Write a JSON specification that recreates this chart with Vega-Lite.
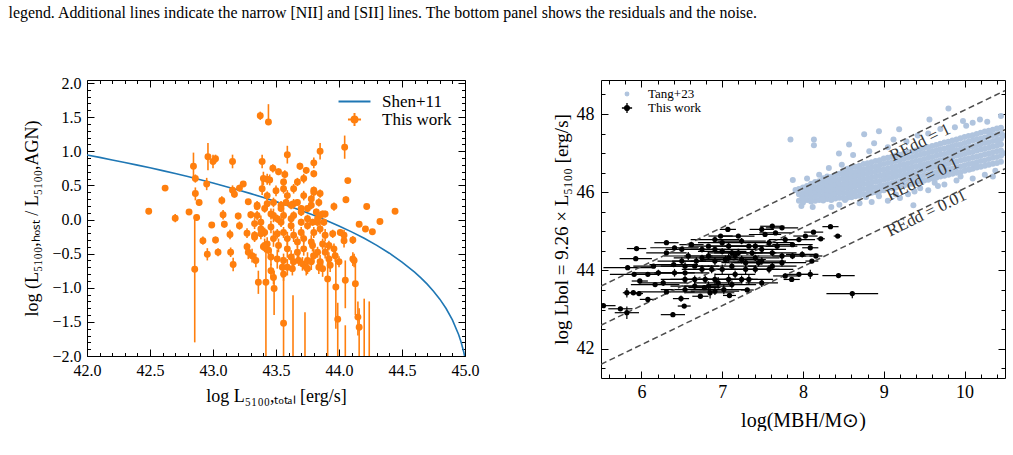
{
"$schema": "https://vega.github.io/schema/vega-lite/v6.json",
"padding": {"left": 8, "top": 4, "right": 0, "bottom": 0},
"title": {"text": "legend. Additional lines indicate the narrow [NII] and [SII] lines. The bottom panel shows the residuals and the noise.", "anchor": "start", "font": "Liberation Serif", "fontSize": 15.9, "fontWeight": "normal", "color": "black", "offset": 54, "dx": -15},
"config": {
 "view": {"stroke": "black", "strokeWidth": 1},
 "axis": {"grid": false, "domain": false, "tickColor": "black", "tickWidth": 1, "labelColor": "black", "labelFont": "Liberation Serif", "titleFont": "Liberation Serif", "titleFontWeight": "normal", "titleColor": "black", "labelOverlap": false, "labelFlush": false, "labelBound": false},
 "legend": {"labelFont": "Liberation Serif", "labelColor": "black"}
},
"spacing": 71,
"resolve": {"scale": {"color": "independent"}, "legend": {"color": "independent"}},
"datasets": {
 "curve": [{"x":42.0,"y":0.945},{"x":42.1,"y":0.910},{"x":42.2,"y":0.873},{"x":42.3,"y":0.836},{"x":42.4,"y":0.797},{"x":42.5,"y":0.757},{"x":42.6,"y":0.716},{"x":42.7,"y":0.673},{"x":42.8,"y":0.629},{"x":42.9,"y":0.583},{"x":43.0,"y":0.535},{"x":43.1,"y":0.485},{"x":43.2,"y":0.433},{"x":43.3,"y":0.379},{"x":43.4,"y":0.322},{"x":43.5,"y":0.262},{"x":43.6,"y":0.199},{"x":43.7,"y":0.132},{"x":43.8,"y":0.062},{"x":43.9,"y":-0.014},{"x":44.0,"y":-0.094},{"x":44.1,"y":-0.181},{"x":44.2,"y":-0.275},{"x":44.3,"y":-0.379},{"x":44.4,"y":-0.494},{"x":44.5,"y":-0.623},{"x":44.6,"y":-0.771},{"x":44.65,"y":-0.855},{"x":44.7,"y":-0.947},{"x":44.75,"y":-1.050},{"x":44.8,"y":-1.167},{"x":44.85,"y":-1.304},{"x":44.9,"y":-1.470},{"x":44.95,"y":-1.689},{"x":44.97,"y":-1.802},{"x":44.99,"y":-1.942},{"x":45.0,"y":-2.027}],
 "orange": [
{"x":42.49,"y":0.12,"lo":0.08,"hi":0.16},{"x":42.62,"y":0.46,"lo":0.43,"hi":0.49},{"x":42.70,"y":0.02,"lo":-0.04,"hi":0.08},{"x":42.81,"y":0.11,"lo":0.07,"hi":0.15},{"x":42.845,"y":0.78,"lo":0.62,"hi":0.98},{"x":42.86,"y":0.60,"lo":0.54,"hi":0.66},{"x":42.86,"y":0.38,"lo":0.28,"hi":0.47},{"x":42.87,"y":0.03,"lo":-0.02,"hi":0.08},{"x":42.89,"y":0.25,"lo":0.21,"hi":0.29},{"x":42.855,"y":-0.73,"lo":-1.80,"hi":0.0},
{"x":42.92,"y":-0.31,"lo":-0.37,"hi":-0.25},{"x":42.95,"y":0.52,"lo":0.43,"hi":0.61},{"x":42.96,"y":0.92,"lo":0.72,"hi":1.12},{"x":42.955,"y":-0.51,"lo":-0.60,"hi":-0.42},{"x":43.00,"y":0.85,"lo":0.75,"hi":0.95},{"x":43.02,"y":0.89,"lo":0.83,"hi":0.95},{"x":42.99,"y":-0.08,"lo":-0.12,"hi":-0.04},{"x":43.02,"y":-0.30,"lo":-0.35,"hi":-0.25},{"x":43.04,"y":-0.48,"lo":-0.54,"hi":-0.42},{"x":43.07,"y":0.28,"lo":0.22,"hi":0.34},
{"x":43.08,"y":0.07,"lo":0.0,"hi":0.14},{"x":43.09,"y":-0.07,"lo":-0.12,"hi":-0.02},{"x":43.135,"y":-0.22,"lo":-0.29,"hi":-0.15},{"x":43.14,"y":-0.48,"lo":-0.55,"hi":-0.41},{"x":43.155,"y":0.85,"lo":0.75,"hi":0.95},{"x":43.155,"y":0.43,"lo":0.36,"hi":0.50},{"x":43.17,"y":0.37,"lo":0.32,"hi":0.42},{"x":43.16,"y":-0.66,"lo":-0.76,"hi":-0.56},{"x":43.20,"y":0.05,"lo":0.0,"hi":0.10},{"x":43.21,"y":-0.09,"lo":-0.15,"hi":-0.03},
{"x":43.21,"y":0.46,"lo":0.41,"hi":0.51},{"x":43.24,"y":0.52,"lo":0.48,"hi":0.56},{"x":43.28,"y":0.26,"lo":0.22,"hi":0.30},{"x":43.27,"y":-0.20,"lo":-0.27,"hi":-0.13},{"x":43.30,"y":0.07,"lo":0.02,"hi":0.12},{"x":43.33,"y":-0.23,"lo":-0.29,"hi":-0.17},{"x":43.35,"y":0.19,"lo":0.14,"hi":0.24},{"x":43.27,"y":-0.40,"lo":-0.46,"hi":-0.34},{"x":43.28,"y":-0.48,"lo":-0.58,"hi":-0.38},{"x":43.34,"y":-0.60,"lo":-0.70,"hi":-0.50},
{"x":43.36,"y":-0.92,"lo":-1.09,"hi":-0.75},{"x":43.42,"y":-0.92,"lo":-2.1,"hi":-0.45},{"x":43.375,"y":1.52,"lo":1.46,"hi":1.58},{"x":43.44,"y":1.43,"lo":1.38,"hi":1.69},{"x":43.39,"y":0.85,"lo":0.75,"hi":0.95},{"x":43.39,"y":0.45,"lo":0.36,"hi":0.58},{"x":43.40,"y":0.60,"lo":0.50,"hi":0.70},{"x":43.43,"y":0.59,"lo":0.51,"hi":0.67},{"x":43.45,"y":0.58,"lo":0.50,"hi":0.66},{"x":43.475,"y":0.75,"lo":0.69,"hi":0.81},
{"x":43.52,"y":0.70,"lo":0.65,"hi":0.75},{"x":43.57,"y":0.66,"lo":0.60,"hi":0.72},{"x":43.56,"y":0.55,"lo":0.50,"hi":0.60},{"x":43.59,"y":0.95,"lo":0.82,"hi":1.08},{"x":43.58,"y":0.25,"lo":0.20,"hi":0.30},{"x":43.69,"y":0.78,"lo":0.73,"hi":0.83},{"x":43.74,"y":0.72,"lo":0.67,"hi":0.77},{"x":43.80,"y":0.83,"lo":0.75,"hi":0.91},{"x":43.80,"y":0.67,"lo":0.62,"hi":0.72},{"x":43.85,"y":1.00,"lo":0.88,"hi":1.12},
{"x":43.85,"y":0.38,"lo":0.32,"hi":0.44},{"x":43.80,"y":0.43,"lo":0.38,"hi":0.48},{"x":44.045,"y":1.06,"lo":0.89,"hi":1.23},{"x":44.07,"y":0.57,"lo":0.53,"hi":0.61},{"x":44.055,"y":0.29,"lo":0.24,"hi":0.34},{"x":43.96,"y":0.19,"lo":0.13,"hi":0.25},{"x":44.22,"y":0.19,"lo":0.16,"hi":0.22},{"x":44.16,"y":-0.07,"lo":-0.10,"hi":-0.04},{"x":44.21,"y":-0.14,"lo":-0.17,"hi":-0.11},{"x":44.265,"y":-0.18,"lo":-0.21,"hi":-0.15},
{"x":44.325,"y":-0.03,"lo":-0.06,"hi":0.0},{"x":44.445,"y":0.12,"lo":0.09,"hi":0.15},{"x":44.01,"y":-0.19,"lo":-0.24,"hi":-0.14},{"x":44.04,"y":-0.23,"lo":-0.31,"hi":-0.15},{"x":44.04,"y":-0.31,"lo":-0.41,"hi":-0.21},{"x":44.11,"y":-0.30,"lo":-0.36,"hi":-0.24},{"x":44.11,"y":-0.58,"lo":-0.68,"hi":-0.48},{"x":43.95,"y":-0.21,"lo":-0.27,"hi":-0.15},{"x":44.00,"y":-0.62,"lo":-0.70,"hi":-0.54},{"x":43.40,"y":-0.40,"lo":-0.46,"hi":-0.34},
{"x":43.46,"y":-0.75,"lo":-0.85,"hi":-0.65},{"x":43.48,"y":-0.85,"lo":-0.95,"hi":-0.75},{"x":43.485,"y":-1.01,"lo":-1.40,"hi":-0.75},{"x":43.56,"y":-0.80,"lo":-0.90,"hi":-0.70},{"x":43.56,"y":-1.52,"lo":-2.1,"hi":-0.75},{"x":43.635,"y":-2.3,"lo":-2.5,"hi":-1.11},{"x":43.73,"y":-2.3,"lo":-2.5,"hi":-1.36},{"x":43.91,"y":-0.87,"lo":-2.1,"hi":-0.40},{"x":43.975,"y":-0.99,"lo":-1.60,"hi":-0.60},{"x":43.99,"y":-1.46,"lo":-2.1,"hi":-1.22},
{"x":44.05,"y":-0.89,"lo":-1.30,"hi":-0.60},{"x":44.12,"y":-0.60,"lo":-0.70,"hi":-0.50},{"x":44.13,"y":-0.94,"lo":-1.40,"hi":-0.60},{"x":44.15,"y":-1.43,"lo":-1.70,"hi":-1.20},{"x":44.16,"y":-1.58,"lo":-2.1,"hi":-1.30},{"x":44.20,"y":-2.3,"lo":-2.5,"hi":-1.16},{"x":44.24,"y":-2.3,"lo":-2.5,"hi":-1.20},{"x":44.05,"y":-2.3,"lo":-2.5,"hi":-1.55},{"x":43.75,"y":-0.72,"lo":-0.80,"hi":-0.64},{"x":43.68,"y":-0.60,"lo":-0.68,"hi":-0.52},
{"x":43.35,"y":0.21,"lo":0.15,"hi":0.27},{"x":43.43,"y":0.23,"lo":0.15,"hi":0.31},{"x":43.54,"y":0.21,"lo":0.15,"hi":0.27},{"x":43.64,"y":0.23,"lo":0.16,"hi":0.30},{"x":43.70,"y":0.16,"lo":0.11,"hi":0.21},{"x":43.78,"y":0.21,"lo":0.15,"hi":0.27},{"x":43.33,"y":-0.06,"lo":-0.14,"hi":0.02},{"x":43.38,"y":-0.04,"lo":-0.14,"hi":0.06},{"x":43.41,"y":-0.19,"lo":-0.26,"hi":-0.12},{"x":43.46,"y":-0.11,"lo":-0.20,"hi":-0.02},
{"x":43.48,"y":0.06,"lo":-0.04,"hi":0.16},{"x":43.54,"y":-0.04,"lo":-0.11,"hi":0.03},{"x":43.62,"y":-0.09,"lo":-0.17,"hi":-0.01},{"x":43.64,"y":-0.23,"lo":-0.33,"hi":-0.13},{"x":43.70,"y":-0.19,"lo":-0.27,"hi":-0.11},{"x":43.72,"y":-0.28,"lo":-0.35,"hi":-0.21},{"x":43.75,"y":-0.09,"lo":-0.15,"hi":-0.03},{"x":43.78,"y":-0.33,"lo":-0.43,"hi":-0.23},{"x":43.80,"y":-0.19,"lo":-0.27,"hi":-0.11},{"x":43.83,"y":-0.04,"lo":-0.10,"hi":0.02},
{"x":43.85,"y":-0.14,"lo":-0.21,"hi":-0.07},{"x":43.88,"y":-0.04,"lo":-0.09,"hi":0.01},{"x":43.89,"y":-0.23,"lo":-0.32,"hi":-0.14},{"x":43.48,"y":-0.28,"lo":-0.40,"hi":-0.16},{"x":43.52,"y":-0.38,"lo":-0.48,"hi":-0.28},{"x":43.59,"y":-0.43,"lo":-0.56,"hi":-0.30},{"x":43.62,"y":-0.55,"lo":-0.65,"hi":-0.45},{"x":43.64,"y":-0.62,"lo":-0.74,"hi":-0.50},{"x":43.67,"y":-0.48,"lo":-0.57,"hi":-0.39},{"x":43.72,"y":-0.43,"lo":-0.53,"hi":-0.33},
{"x":43.75,"y":-0.60,"lo":-0.72,"hi":-0.48},{"x":43.80,"y":-0.53,"lo":-0.63,"hi":-0.43},{"x":43.83,"y":-0.48,"lo":-0.56,"hi":-0.40},{"x":43.85,"y":-0.62,"lo":-0.72,"hi":-0.52},{"x":43.89,"y":-0.48,"lo":-0.57,"hi":-0.39},{"x":43.92,"y":-0.58,"lo":-0.68,"hi":-0.48},{"x":43.96,"y":-0.43,"lo":-0.51,"hi":-0.35},{"x":43.56,"y":-0.19,"lo":-0.27,"hi":-0.11},{"x":43.59,"y":-0.28,"lo":-0.38,"hi":-0.18},{"x":43.51,"y":-0.21,"lo":-0.28,"hi":-0.14},
{"x":43.43,"y":-0.36,"lo":-0.46,"hi":-0.26},{"x":43.44,"y":-0.45,"lo":-0.57,"hi":-0.33},{"x":43.38,"y":-0.21,"lo":-0.29,"hi":-0.13},{"x":43.41,"y":-0.38,"lo":-0.48,"hi":-0.28},{"x":43.33,"y":-0.26,"lo":-0.33,"hi":-0.19},{"x":43.31,"y":-0.53,"lo":-0.63,"hi":-0.43},{"x":43.46,"y":-0.55,"lo":-0.67,"hi":-0.43},{"x":43.51,"y":-0.58,"lo":-0.72,"hi":-0.44},{"x":43.55,"y":-0.70,"lo":-0.85,"hi":-0.55},{"x":43.67,"y":-0.33,"lo":-0.41,"hi":-0.25},
{"x":43.74,"y":-0.70,"lo":-0.82,"hi":-0.58},{"x":43.79,"y":-0.38,"lo":-0.47,"hi":-0.29},{"x":43.87,"y":-0.36,"lo":-0.44,"hi":-0.28},{"x":43.92,"y":-0.38,"lo":-0.45,"hi":-0.31},{"x":43.43,"y":0.35,"lo":0.29,"hi":0.41},{"x":43.48,"y":0.25,"lo":0.18,"hi":0.32},{"x":43.54,"y":0.16,"lo":0.11,"hi":0.21},{"x":43.59,"y":0.35,"lo":0.27,"hi":0.43},{"x":43.62,"y":0.21,"lo":0.15,"hi":0.27},{"x":43.64,"y":0.45,"lo":0.38,"hi":0.52},
{"x":43.67,"y":0.25,"lo":0.20,"hi":0.30},{"x":43.70,"y":0.11,"lo":0.05,"hi":0.17},{"x":43.72,"y":0.35,"lo":0.28,"hi":0.42},{"x":43.75,"y":0.16,"lo":0.11,"hi":0.21},{"x":43.78,"y":0.30,"lo":0.24,"hi":0.36},{"x":43.80,"y":0.40,"lo":0.32,"hi":0.48},{"x":43.82,"y":0.11,"lo":0.06,"hi":0.16},{"x":43.84,"y":0.25,"lo":0.19,"hi":0.31},{"x":43.87,"y":0.08,"lo":0.03,"hi":0.13},{"x":43.64,"y":0.06,"lo":0.0,"hi":0.12},
{"x":43.56,"y":0.06,"lo":-0.01,"hi":0.13},{"x":43.51,"y":0.01,"lo":-0.05,"hi":0.07},{"x":43.46,"y":0.08,"lo":0.0,"hi":0.16},{"x":43.41,"y":0.16,"lo":0.10,"hi":0.22},{"x":43.35,"y":0.06,"lo":-0.01,"hi":0.13},{"x":43.38,"y":-0.14,"lo":-0.22,"hi":-0.06},{"x":43.62,"y":0.01,"lo":-0.05,"hi":0.07},{"x":43.70,"y":-0.04,"lo":-0.09,"hi":0.01},{"x":43.75,"y":0.01,"lo":-0.05,"hi":0.07},{"x":43.79,"y":-0.04,"lo":-0.09,"hi":0.01},
{"x":43.83,"y":0.01,"lo":-0.05,"hi":0.07},{"x":43.85,"y":0.06,"lo":0.01,"hi":0.11},{"x":43.89,"y":0.08,"lo":0.03,"hi":0.13},{"x":43.50,"y":0.42,"lo":0.34,"hi":0.50},{"x":43.56,"y":0.45,"lo":0.38,"hi":0.52},{"x":43.67,"y":0.55,"lo":0.49,"hi":0.61},{"x":43.72,"y":0.60,"lo":0.53,"hi":0.67},{"x":43.56,"y":-0.60,"lo":-0.70,"hi":-0.50},{"x":43.59,"y":-0.70,"lo":-0.82,"hi":-0.58},{"x":43.63,"y":-0.72,"lo":-0.82,"hi":-0.62},
{"x":43.71,"y":-0.65,"lo":-0.75,"hi":-0.55},{"x":43.78,"y":-0.62,"lo":-0.74,"hi":-0.50},{"x":43.84,"y":-0.70,"lo":-0.80,"hi":-0.60},{"x":43.87,"y":-0.72,"lo":-0.84,"hi":-0.60},{"x":43.93,"y":-0.67,"lo":-0.77,"hi":-0.57},{"x":43.97,"y":-0.53,"lo":-0.62,"hi":-0.44}
 ],
 "redd": [{"R":"1","x":5.5,"y":43.6},{"R":"1","x":10.5,"y":48.6},{"R":"0.1","x":5.5,"y":42.6},{"R":"0.1","x":10.5,"y":47.6},{"R":"0.01","x":5.5,"y":41.6},{"R":"0.01","x":10.5,"y":46.6}],
 "rlab": [{"x":9.45,"y":47.27,"label":"REdd = 1"},{"x":9.48,"y":46.33,"label":"REdd = 0.1"},{"x":9.53,"y":45.46,"label":"REdd = 0.01"}],
 "black": [
{"x":5.53,"y":43.10,"xl":5.38,"xh":5.68,"yl":43.05,"yh":43.15},{"x":5.74,"y":43.02,"xl":5.59,"xh":5.89,"yl":42.97,"yh":43.07},{"x":5.82,"y":42.92,"xl":5.67,"xh":5.97,"yl":42.76,"yh":43.08},{"x":5.82,"y":43.43,"xl":5.77,"xh":5.87,"yl":43.31,"yh":43.55},{"x":5.90,"y":43.43,"xl":5.85,"xh":5.95,"yl":43.38,"yh":43.48},{"x":5.97,"y":43.41,"xl":5.92,"xh":6.02,"yl":43.36,"yh":43.46},{"x":5.83,"y":44.07,"xl":5.53,"xh":6.13,"yl":44.02,"yh":44.12},{"x":5.94,"y":44.56,"xl":5.82,"xh":6.06,"yl":44.51,"yh":44.61},{"x":5.93,"y":44.30,"xl":5.73,"xh":6.13,"yl":44.25,"yh":44.35},{"x":5.91,"y":43.90,"xl":5.61,"xh":6.21,"yl":43.85,"yh":43.95},
{"x":5.98,"y":43.73,"xl":5.88,"xh":6.08,"yl":43.68,"yh":43.78},{"x":6.08,"y":43.90,"xl":5.93,"xh":6.23,"yl":43.85,"yh":43.95},{"x":6.15,"y":44.11,"xl":5.90,"xh":6.40,"yl":44.06,"yh":44.16},{"x":6.17,"y":43.64,"xl":5.87,"xh":6.47,"yl":43.59,"yh":43.69},{"x":6.08,"y":43.26,"xl":5.98,"xh":6.18,"yl":43.21,"yh":43.31},{"x":6.31,"y":44.71,"xl":6.16,"xh":6.46,"yl":44.66,"yh":44.76},{"x":6.31,"y":44.45,"xl":6.06,"xh":6.56,"yl":44.40,"yh":44.50},{"x":6.31,"y":43.45,"xl":5.96,"xh":6.66,"yl":43.40,"yh":43.50},{"x":6.39,"y":42.87,"xl":6.24,"xh":6.54,"yl":42.81,"yh":42.93},{"x":6.49,"y":43.28,"xl":6.39,"xh":6.59,"yl":43.20,"yh":43.36},
{"x":6.53,"y":43.09,"xl":6.45,"xh":6.61,"yl":43.04,"yh":43.14},{"x":6.40,"y":44.15,"xl":6.10,"xh":6.70,"yl":44.10,"yh":44.20},{"x":6.41,"y":44.58,"xl":6.11,"xh":6.71,"yl":44.53,"yh":44.63},{"x":6.50,"y":44.54,"xl":6.30,"xh":6.70,"yl":44.49,"yh":44.59},{"x":6.54,"y":43.94,"xl":6.24,"xh":6.84,"yl":43.88,"yh":44.00},{"x":6.62,"y":44.66,"xl":6.47,"xh":6.77,"yl":44.61,"yh":44.71},{"x":6.66,"y":44.11,"xl":6.36,"xh":6.96,"yl":44.06,"yh":44.16},{"x":6.75,"y":44.32,"xl":6.40,"xh":7.10,"yl":44.24,"yh":44.40},{"x":6.73,"y":43.34,"xl":6.63,"xh":6.83,"yl":43.29,"yh":43.39},{"x":6.78,"y":43.56,"xl":6.58,"xh":6.98,"yl":43.50,"yh":43.62},
{"x":6.85,"y":43.43,"xl":6.55,"xh":7.15,"yl":43.28,"yh":43.58},{"x":6.83,"y":44.62,"xl":6.58,"xh":7.08,"yl":44.57,"yh":44.67},{"x":6.91,"y":44.54,"xl":6.61,"xh":7.21,"yl":44.49,"yh":44.59},{"x":7.00,"y":44.49,"xl":6.70,"xh":7.30,"yl":44.41,"yh":44.57},{"x":7.07,"y":45.05,"xl":6.97,"xh":7.17,"yl":45.00,"yh":45.10},{"x":6.98,"y":44.88,"xl":6.83,"xh":7.13,"yl":44.83,"yh":44.93},{"x":7.08,"y":44.32,"xl":6.78,"xh":7.38,"yl":44.22,"yh":44.42},{"x":7.09,"y":43.36,"xl":7.01,"xh":7.17,"yl":43.31,"yh":43.41},{"x":7.20,"y":44.88,"xl":7.00,"xh":7.40,"yl":44.83,"yh":44.93},{"x":7.31,"y":43.50,"xl":7.23,"xh":7.39,"yl":43.45,"yh":43.55},
{"x":7.33,"y":44.62,"xl":7.03,"xh":7.63,"yl":44.57,"yh":44.67},{"x":7.41,"y":44.32,"xl":7.11,"xh":7.71,"yl":44.24,"yh":44.40},{"x":7.49,"y":45.05,"xl":7.34,"xh":7.64,"yl":45.00,"yh":45.10},{"x":7.53,"y":44.92,"xl":7.33,"xh":7.73,"yl":44.87,"yh":44.97},{"x":7.62,"y":45.13,"xl":7.47,"xh":7.77,"yl":45.08,"yh":45.18},{"x":7.66,"y":44.96,"xl":7.46,"xh":7.86,"yl":44.91,"yh":45.01},{"x":7.74,"y":45.09,"xl":7.54,"xh":7.94,"yl":45.04,"yh":45.14},{"x":7.58,"y":44.71,"xl":7.28,"xh":7.88,"yl":44.63,"yh":44.79},{"x":7.68,"y":44.62,"xl":7.43,"xh":7.93,"yl":44.54,"yh":44.70},{"x":7.78,"y":44.79,"xl":7.58,"xh":7.98,"yl":44.74,"yh":44.84},
{"x":7.87,"y":44.66,"xl":7.62,"xh":8.12,"yl":44.61,"yh":44.71},{"x":7.95,"y":44.79,"xl":7.75,"xh":8.15,"yl":44.73,"yh":44.85},{"x":8.03,"y":44.88,"xl":7.88,"xh":8.18,"yl":44.83,"yh":44.93},{"x":8.13,"y":44.98,"xl":8.01,"xh":8.25,"yl":44.93,"yh":45.03},{"x":8.22,"y":44.81,"xl":8.17,"xh":8.27,"yl":44.76,"yh":44.86},{"x":8.34,"y":45.12,"xl":8.24,"xh":8.44,"yl":45.07,"yh":45.17},{"x":8.43,"y":44.88,"xl":8.38,"xh":8.48,"yl":44.83,"yh":44.93},{"x":8.09,"y":44.58,"xl":7.99,"xh":8.19,"yl":44.53,"yh":44.63},{"x":8.16,"y":44.37,"xl":8.08,"xh":8.24,"yl":44.32,"yh":44.42},{"x":8.11,"y":44.24,"xl":8.03,"xh":8.19,"yl":44.19,"yh":44.29},
{"x":7.78,"y":43.86,"xl":7.63,"xh":7.93,"yl":43.80,"yh":43.92},{"x":7.86,"y":43.77,"xl":7.76,"xh":7.96,"yl":43.72,"yh":43.82},{"x":7.95,"y":43.90,"xl":7.80,"xh":8.10,"yl":43.85,"yh":43.95},{"x":8.09,"y":43.90,"xl":7.99,"xh":8.19,"yl":43.78,"yh":44.02},{"x":8.44,"y":43.87,"xl":8.24,"xh":8.64,"yl":43.82,"yh":43.92},{"x":8.61,"y":43.41,"xl":8.29,"xh":8.93,"yl":43.29,"yh":43.46},{"x":7.74,"y":44.20,"xl":7.44,"xh":8.04,"yl":44.10,"yh":44.30},{"x":7.58,"y":44.03,"xl":7.28,"xh":7.88,"yl":43.93,"yh":44.13},{"x":7.45,"y":44.20,"xl":7.15,"xh":7.75,"yl":44.10,"yh":44.30},{"x":7.29,"y":44.03,"xl":6.99,"xh":7.59,"yl":43.91,"yh":44.15},
{"x":7.16,"y":43.90,"xl":6.91,"xh":7.41,"yl":43.80,"yh":44.00},{"x":7.12,"y":43.64,"xl":6.82,"xh":7.42,"yl":43.54,"yh":43.74},{"x":6.91,"y":43.77,"xl":6.61,"xh":7.21,"yl":43.62,"yh":43.92},{"x":6.79,"y":43.77,"xl":6.49,"xh":7.09,"yl":43.67,"yh":43.87},{"x":6.66,"y":43.77,"xl":6.36,"xh":6.96,"yl":43.67,"yh":43.87},{"x":6.54,"y":43.77,"xl":6.24,"xh":6.84,"yl":43.67,"yh":43.87},{"x":6.87,"y":44.03,"xl":6.57,"xh":7.17,"yl":43.93,"yh":44.13},{"x":6.75,"y":44.03,"xl":6.50,"xh":7.00,"yl":43.93,"yh":44.13},{"x":7.00,"y":44.03,"xl":6.70,"xh":7.30,"yl":43.91,"yh":44.15},{"x":7.12,"y":44.11,"xl":6.82,"xh":7.42,"yl":44.01,"yh":44.21},
{"x":7.24,"y":44.28,"xl":6.94,"xh":7.54,"yl":44.18,"yh":44.38},{"x":7.37,"y":44.45,"xl":7.07,"xh":7.67,"yl":44.37,"yh":44.53},{"x":7.49,"y":44.54,"xl":7.19,"xh":7.79,"yl":44.46,"yh":44.62},{"x":7.62,"y":44.45,"xl":7.32,"xh":7.92,"yl":44.37,"yh":44.53},{"x":7.74,"y":44.37,"xl":7.44,"xh":8.04,"yl":44.29,"yh":44.45},{"x":7.87,"y":44.37,"xl":7.62,"xh":8.12,"yl":44.29,"yh":44.45},{"x":7.99,"y":44.41,"xl":7.79,"xh":8.19,"yl":44.33,"yh":44.49},{"x":7.08,"y":44.62,"xl":6.83,"xh":7.33,"yl":44.54,"yh":44.70},{"x":7.20,"y":44.45,"xl":6.90,"xh":7.50,"yl":44.37,"yh":44.53},{"x":6.91,"y":44.24,"xl":6.61,"xh":7.21,"yl":44.14,"yh":44.34},
{"x":7.04,"y":44.28,"xl":6.74,"xh":7.34,"yl":44.18,"yh":44.38},{"x":7.16,"y":44.37,"xl":6.86,"xh":7.46,"yl":44.27,"yh":44.47},{"x":7.29,"y":44.20,"xl":6.99,"xh":7.59,"yl":44.10,"yh":44.30},{"x":7.41,"y":44.03,"xl":7.11,"xh":7.71,"yl":43.93,"yh":44.13},{"x":7.49,"y":44.24,"xl":7.19,"xh":7.79,"yl":44.14,"yh":44.34},{"x":7.62,"y":44.11,"xl":7.32,"xh":7.92,"yl":44.01,"yh":44.21},{"x":6.83,"y":44.37,"xl":6.53,"xh":7.13,"yl":44.27,"yh":44.47},{"x":6.68,"y":44.24,"xl":6.38,"xh":6.98,"yl":44.14,"yh":44.34},{"x":6.58,"y":44.37,"xl":6.28,"xh":6.88,"yl":44.27,"yh":44.47},{"x":6.50,"y":44.24,"xl":6.20,"xh":6.80,"yl":44.14,"yh":44.34},
{"x":6.41,"y":43.94,"xl":6.16,"xh":6.66,"yl":43.84,"yh":44.04},{"x":6.83,"y":43.60,"xl":6.53,"xh":7.13,"yl":43.48,"yh":43.72},{"x":6.95,"y":43.68,"xl":6.65,"xh":7.25,"yl":43.53,"yh":43.83},{"x":6.66,"y":43.60,"xl":6.36,"xh":6.96,"yl":43.50,"yh":43.70},{"x":6.54,"y":43.51,"xl":6.24,"xh":6.84,"yl":43.41,"yh":43.61},{"x":6.21,"y":43.94,"xl":5.91,"xh":6.51,"yl":43.86,"yh":44.02},{"x":6.27,"y":43.68,"xl":5.97,"xh":6.57,"yl":43.60,"yh":43.76},{"x":7.02,"y":43.51,"xl":6.72,"xh":7.32,"yl":43.39,"yh":43.63},{"x":7.24,"y":43.77,"xl":7.04,"xh":7.44,"yl":43.67,"yh":43.87},{"x":7.00,"y":44.71,"xl":6.70,"xh":7.30,"yl":44.63,"yh":44.79},
{"x":7.24,"y":44.75,"xl":6.94,"xh":7.54,"yl":44.67,"yh":44.83},{"x":6.91,"y":44.79,"xl":6.61,"xh":7.21,"yl":44.71,"yh":44.87},{"x":7.12,"y":44.45,"xl":6.82,"xh":7.42,"yl":44.35,"yh":44.55},{"x":7.41,"y":44.62,"xl":7.11,"xh":7.71,"yl":44.54,"yh":44.70},{"x":6.75,"y":44.54,"xl":6.45,"xh":7.05,"yl":44.46,"yh":44.62},{"x":6.54,"y":44.11,"xl":6.24,"xh":6.84,"yl":44.01,"yh":44.21},{"x":7.08,"y":43.77,"xl":6.78,"xh":7.38,"yl":43.65,"yh":43.89},{"x":7.33,"y":43.77,"xl":7.03,"xh":7.63,"yl":43.65,"yh":43.89},{"x":7.49,"y":43.68,"xl":7.29,"xh":7.69,"yl":43.58,"yh":43.78},{"x":6.91,"y":43.47,"xl":6.61,"xh":7.21,"yl":43.37,"yh":43.57}
 ],
 "blue": [
{"x":7.95,"y":45.78},{"x":7.95,"y":45.95},{"x":7.95,"y":46.08},{"x":8.0,"y":45.74},{"x":8.0,"y":45.86},{"x":8.0,"y":45.98},{"x":8.0,"y":46.12},{"x":8.05,"y":45.80},{"x":8.05,"y":45.93},{"x":8.05,"y":46.05},{"x":8.05,"y":46.16},
{"x":8.1,"y":45.76},{"x":8.1,"y":45.88},{"x":8.1,"y":46.0},{"x":8.1,"y":46.11},{"x":8.1,"y":46.22},{"x":8.15,"y":45.78},{"x":8.15,"y":45.9},{"x":8.15,"y":46.02},{"x":8.15,"y":46.13},{"x":8.15,"y":46.26},
{"x":8.2,"y":45.8},{"x":8.2,"y":45.93},{"x":8.2,"y":46.05},{"x":8.2,"y":46.16},{"x":8.2,"y":46.28},{"x":8.25,"y":45.79},{"x":8.25,"y":45.9},{"x":8.25,"y":46.02},{"x":8.25,"y":46.13},{"x":8.25,"y":46.25},{"x":8.25,"y":46.36},
{"x":8.3,"y":45.83},{"x":8.3,"y":45.95},{"x":8.3,"y":46.06},{"x":8.3,"y":46.18},{"x":8.3,"y":46.3},{"x":8.3,"y":46.4},{"x":8.35,"y":45.8},{"x":8.35,"y":45.92},{"x":8.35,"y":46.04},{"x":8.35,"y":46.15},{"x":8.35,"y":46.27},{"x":8.35,"y":46.39},
{"x":8.4,"y":45.84},{"x":8.4,"y":45.96},{"x":8.4,"y":46.08},{"x":8.4,"y":46.19},{"x":8.4,"y":46.31},{"x":8.4,"y":46.44},{"x":8.45,"y":45.86},{"x":8.45,"y":45.99},{"x":8.45,"y":46.11},{"x":8.45,"y":46.22},{"x":8.45,"y":46.34},{"x":8.45,"y":46.47},
{"x":8.5,"y":45.85},{"x":8.5,"y":45.97},{"x":8.5,"y":46.09},{"x":8.5,"y":46.21},{"x":8.5,"y":46.33},{"x":8.5,"y":46.45},{"x":8.5,"y":46.55},
{"x":8.55,"y":45.86},{"x":8.55,"y":45.99},{"x":8.55,"y":46.11},{"x":8.55,"y":46.23},{"x":8.55,"y":46.35},{"x":8.55,"y":46.47},{"x":8.55,"y":46.6},
{"x":8.6,"y":45.87},{"x":8.6,"y":46.0},{"x":8.6,"y":46.13},{"x":8.6,"y":46.25},{"x":8.6,"y":46.37},{"x":8.6,"y":46.5},{"x":8.6,"y":46.63},
{"x":8.65,"y":45.9},{"x":8.65,"y":46.02},{"x":8.65,"y":46.15},{"x":8.65,"y":46.27},{"x":8.65,"y":46.4},{"x":8.65,"y":46.52},{"x":8.65,"y":46.65},
{"x":8.7,"y":45.91},{"x":8.7,"y":46.04},{"x":8.7,"y":46.17},{"x":8.7,"y":46.3},{"x":8.7,"y":46.43},{"x":8.7,"y":46.55},{"x":8.7,"y":46.68},
{"x":8.75,"y":45.95},{"x":8.75,"y":46.08},{"x":8.75,"y":46.21},{"x":8.75,"y":46.33},{"x":8.75,"y":46.46},{"x":8.75,"y":46.58},{"x":8.75,"y":46.72},
{"x":8.8,"y":45.96},{"x":8.8,"y":46.09},{"x":8.8,"y":46.22},{"x":8.8,"y":46.35},{"x":8.8,"y":46.48},{"x":8.8,"y":46.61},{"x":8.8,"y":46.74},
{"x":8.85,"y":45.99},{"x":8.85,"y":46.12},{"x":8.85,"y":46.25},{"x":8.85,"y":46.38},{"x":8.85,"y":46.51},{"x":8.85,"y":46.64},{"x":8.85,"y":46.77},
{"x":8.9,"y":46.0},{"x":8.9,"y":46.13},{"x":8.9,"y":46.27},{"x":8.9,"y":46.4},{"x":8.9,"y":46.53},{"x":8.9,"y":46.66},{"x":8.9,"y":46.8},
{"x":8.95,"y":46.03},{"x":8.95,"y":46.16},{"x":8.95,"y":46.29},{"x":8.95,"y":46.42},{"x":8.95,"y":46.56},{"x":8.95,"y":46.69},{"x":8.95,"y":46.82},
{"x":9.0,"y":46.05},{"x":9.0,"y":46.18},{"x":9.0,"y":46.32},{"x":9.0,"y":46.45},{"x":9.0,"y":46.58},{"x":9.0,"y":46.72},{"x":9.0,"y":46.86},
{"x":9.05,"y":46.08},{"x":9.05,"y":46.21},{"x":9.05,"y":46.35},{"x":9.05,"y":46.48},{"x":9.05,"y":46.61},{"x":9.05,"y":46.75},{"x":9.05,"y":46.88},
{"x":9.1,"y":46.1},{"x":9.1,"y":46.23},{"x":9.1,"y":46.37},{"x":9.1,"y":46.5},{"x":9.1,"y":46.63},{"x":9.1,"y":46.77},{"x":9.1,"y":46.91},
{"x":9.15,"y":46.12},{"x":9.15,"y":46.26},{"x":9.15,"y":46.4},{"x":9.15,"y":46.53},{"x":9.15,"y":46.66},{"x":9.15,"y":46.8},{"x":9.15,"y":46.94},
{"x":9.2,"y":46.15},{"x":9.2,"y":46.28},{"x":9.2,"y":46.42},{"x":9.2,"y":46.55},{"x":9.2,"y":46.69},{"x":9.2,"y":46.82},{"x":9.2,"y":46.96},
{"x":9.25,"y":46.17},{"x":9.25,"y":46.31},{"x":9.25,"y":46.45},{"x":9.25,"y":46.58},{"x":9.25,"y":46.71},{"x":9.25,"y":46.85},{"x":9.25,"y":46.99},
{"x":9.3,"y":46.2},{"x":9.3,"y":46.34},{"x":9.3,"y":46.47},{"x":9.3,"y":46.61},{"x":9.3,"y":46.74},{"x":9.3,"y":46.88},{"x":9.3,"y":47.02},
{"x":9.35,"y":46.22},{"x":9.35,"y":46.36},{"x":9.35,"y":46.5},{"x":9.35,"y":46.63},{"x":9.35,"y":46.77},{"x":9.35,"y":46.9},{"x":9.35,"y":47.04},
{"x":9.4,"y":46.25},{"x":9.4,"y":46.39},{"x":9.4,"y":46.52},{"x":9.4,"y":46.66},{"x":9.4,"y":46.8},{"x":9.4,"y":46.93},{"x":9.4,"y":47.07},
{"x":9.45,"y":46.27},{"x":9.45,"y":46.41},{"x":9.45,"y":46.55},{"x":9.45,"y":46.69},{"x":9.45,"y":46.82},{"x":9.45,"y":46.96},{"x":9.45,"y":47.1},
{"x":9.5,"y":46.3},{"x":9.5,"y":46.44},{"x":9.5,"y":46.58},{"x":9.5,"y":46.71},{"x":9.5,"y":46.85},{"x":9.5,"y":46.99},{"x":9.5,"y":47.13},
{"x":9.55,"y":46.32},{"x":9.55,"y":46.46},{"x":9.55,"y":46.6},{"x":9.55,"y":46.74},{"x":9.55,"y":46.88},{"x":9.55,"y":47.01},{"x":9.55,"y":47.15},
{"x":9.6,"y":46.35},{"x":9.6,"y":46.49},{"x":9.6,"y":46.63},{"x":9.6,"y":46.77},{"x":9.6,"y":46.9},{"x":9.6,"y":47.04},{"x":9.6,"y":47.18},
{"x":9.65,"y":46.37},{"x":9.65,"y":46.51},{"x":9.65,"y":46.65},{"x":9.65,"y":46.79},{"x":9.65,"y":46.93},{"x":9.65,"y":47.07},{"x":9.65,"y":47.21},
{"x":9.7,"y":46.4},{"x":9.7,"y":46.54},{"x":9.7,"y":46.68},{"x":9.7,"y":46.82},{"x":9.7,"y":46.96},{"x":9.7,"y":47.1},{"x":9.7,"y":47.24},
{"x":9.75,"y":46.42},{"x":9.75,"y":46.56},{"x":9.75,"y":46.7},{"x":9.75,"y":46.84},{"x":9.75,"y":46.98},{"x":9.75,"y":47.12},{"x":9.75,"y":47.27},
{"x":9.8,"y":46.45},{"x":9.8,"y":46.59},{"x":9.8,"y":46.73},{"x":9.8,"y":46.87},{"x":9.8,"y":47.01},{"x":9.8,"y":47.15},{"x":9.8,"y":47.29},
{"x":9.85,"y":46.47},{"x":9.85,"y":46.61},{"x":9.85,"y":46.76},{"x":9.85,"y":46.9},{"x":9.85,"y":47.04},{"x":9.85,"y":47.18},{"x":9.85,"y":47.32},
{"x":9.9,"y":46.5},{"x":9.9,"y":46.64},{"x":9.9,"y":46.78},{"x":9.9,"y":46.93},{"x":9.9,"y":47.07},{"x":9.9,"y":47.21},{"x":9.9,"y":47.35},
{"x":9.95,"y":46.52},{"x":9.95,"y":46.66},{"x":9.95,"y":46.81},{"x":9.95,"y":46.95},{"x":9.95,"y":47.09},{"x":9.95,"y":47.23},{"x":9.95,"y":47.38},
{"x":10.0,"y":46.55},{"x":10.0,"y":46.69},{"x":10.0,"y":46.84},{"x":10.0,"y":46.98},{"x":10.0,"y":47.12},{"x":10.0,"y":47.26},{"x":10.0,"y":47.41},
{"x":10.05,"y":46.58},{"x":10.05,"y":46.72},{"x":10.05,"y":46.86},{"x":10.05,"y":47.01},{"x":10.05,"y":47.15},{"x":10.05,"y":47.29},{"x":10.05,"y":47.44},
{"x":10.1,"y":46.6},{"x":10.1,"y":46.74},{"x":10.1,"y":46.89},{"x":10.1,"y":47.03},{"x":10.1,"y":47.17},{"x":10.1,"y":47.32},{"x":10.1,"y":47.46},
{"x":10.15,"y":46.63},{"x":10.15,"y":46.77},{"x":10.15,"y":46.91},{"x":10.15,"y":47.06},{"x":10.15,"y":47.2},{"x":10.15,"y":47.35},{"x":10.15,"y":47.49},
{"x":10.2,"y":46.65},{"x":10.2,"y":46.8},{"x":10.2,"y":46.94},{"x":10.2,"y":47.09},{"x":10.2,"y":47.23},{"x":10.2,"y":47.37},{"x":10.2,"y":47.52},
{"x":10.25,"y":46.68},{"x":10.25,"y":46.82},{"x":10.25,"y":46.97},{"x":10.25,"y":47.11},{"x":10.25,"y":47.26},{"x":10.25,"y":47.4},{"x":10.25,"y":47.55},
{"x":10.3,"y":46.7},{"x":10.3,"y":46.85},{"x":10.3,"y":46.99},{"x":10.3,"y":47.14},{"x":10.3,"y":47.28},{"x":10.3,"y":47.43},{"x":10.3,"y":47.57},
{"x":10.35,"y":46.73},{"x":10.35,"y":46.88},{"x":10.35,"y":47.02},{"x":10.35,"y":47.17},{"x":10.35,"y":47.31},{"x":10.35,"y":47.46},{"x":10.35,"y":47.6},
{"x":10.4,"y":46.75},{"x":10.4,"y":46.9},{"x":10.4,"y":47.05},{"x":10.4,"y":47.19},{"x":10.4,"y":47.34},{"x":10.4,"y":47.48},{"x":10.4,"y":47.63},
{"x":10.45,"y":46.78},{"x":10.45,"y":46.93},{"x":10.45,"y":47.07},{"x":10.45,"y":47.22},{"x":10.45,"y":47.36},{"x":10.45,"y":47.51},{"x":10.45,"y":47.65},
{"x":7.845,"y":47.35},{"x":8.135,"y":47.35},{"x":8.135,"y":47.2},{"x":7.874,"y":46.31},{"x":7.907,"y":46.06},{"x":9.8,"y":48.14},{"x":9.366,"y":45.67},{"x":8.57,"y":47.22},{"x":8.445,"y":46.99},{"x":8.757,"y":47.48},
{"x":8.94,"y":47.56},{"x":9.19,"y":47.61},{"x":9.565,"y":47.86},{"x":9.98,"y":47.82},{"x":10.1,"y":47.78},{"x":10.19,"y":47.86},{"x":10.31,"y":47.52},{"x":10.41,"y":47.31},{"x":9.67,"y":46.16},{"x":9.63,"y":46.24},
{"x":9.15,"y":45.94},{"x":8.94,"y":45.9},{"x":8.57,"y":45.94},{"x":8.24,"y":45.82},{"x":7.99,"y":45.86},{"x":8.96,"y":46.15},{"x":9.85,"y":47.09},{"x":10.06,"y":46.58},{"x":10.15,"y":46.66},
{"x":8.05,"y":46.35},{"x":8.2,"y":46.45},{"x":8.32,"y":46.62},{"x":8.48,"y":46.7},{"x":8.62,"y":46.95},{"x":8.82,"y":47.05},{"x":8.88,"y":47.25},{"x":9.05,"y":47.15},{"x":9.12,"y":47.35},{"x":9.28,"y":47.3},
{"x":9.42,"y":47.45},{"x":9.55,"y":47.5},{"x":9.7,"y":47.62},{"x":9.88,"y":47.66},{"x":10.02,"y":47.7},{"x":10.28,"y":47.8},{"x":10.45,"y":47.95},{"x":10.38,"y":46.55},{"x":10.25,"y":46.45},{"x":10.1,"y":46.35},
{"x":9.9,"y":46.3},{"x":9.75,"y":46.2},{"x":9.55,"y":46.05},{"x":9.45,"y":46.1},{"x":9.3,"y":45.95},{"x":9.2,"y":45.85},{"x":9.05,"y":45.78},{"x":8.85,"y":45.75},{"x":8.7,"y":45.72},{"x":8.45,"y":45.68},
{"x":8.35,"y":45.62},{"x":8.12,"y":45.62},{"x":7.98,"y":45.65},{"x":8.52,"y":45.8},{"x":8.78,"y":45.88},{"x":9.38,"y":46.02},{"x":9.95,"y":46.4},{"x":10.35,"y":46.4},{"x":10.48,"y":47.0},{"x":10.48,"y":47.45}
 ]
},
"hconcat": [
 {
  "width": 378, "height": 276,
  "layer": [
   {
    "data": {"name": "curve"},
    "mark": {"type": "line", "strokeWidth": 1.6, "clip": true},
    "encoding": {
     "x": {"field": "x", "type": "quantitative", "scale": {"domain": [42, 45], "nice": false, "zero": false},
      "axis": {"orient": "bottom", "values": [42,42.1,42.2,42.3,42.4,42.5,42.6,42.7,42.8,42.9,43,43.1,43.2,43.3,43.4,43.5,43.6,43.7,43.8,43.9,44,44.1,44.2,44.3,44.4,44.5,44.6,44.7,44.8,44.9,45],
       "labelExpr": "abs(datum.value*2-round(datum.value*2))<0.01 ? format(datum.value,'.1f') : ''",
       "tickSize": {"condition": {"test": "abs(datum.value*2-round(datum.value*2))<0.01", "value": -7}, "value": -3.5},
       "labelPadding": 13, "labelFontSize": 16, "title": "log L₅₁₀₀,ₜₒₜₐₗ [erg/s]", "titleFontSize": 18, "titlePadding": 6}},
     "y": {"field": "y", "type": "quantitative", "scale": {"domain": [-2, 2.044], "nice": false, "zero": false},
      "axis": {"orient": "left", "values": [-2,-1.9,-1.8,-1.7,-1.6,-1.5,-1.4,-1.3,-1.2,-1.1,-1,-0.9,-0.8,-0.7,-0.6,-0.5,-0.4,-0.3,-0.2,-0.1,0,0.1,0.2,0.3,0.4,0.5,0.6,0.7,0.8,0.9,1,1.1,1.2,1.3,1.4,1.5,1.6,1.7,1.8,1.9,2],
       "labelExpr": "abs(datum.value*2-round(datum.value*2))<0.01 ? format(datum.value,'.1f') : ''",
       "tickSize": {"condition": {"test": "abs(datum.value*2-round(datum.value*2))<0.01", "value": -7}, "value": -3.5},
       "labelPadding": 13, "labelFontSize": 16, "title": "log (L₅₁₀₀,ₕₒₛₜ / L₅₁₀₀,AGN)", "titleFontSize": 18, "titlePadding": 10}},
     "color": {"datum": "Shen+11", "scale": {"domain": ["Shen+11", "This work"], "range": ["#1f77b4", "#ff7f0e"]},
      "legend": {"orient": "top-right", "title": null, "offset": 13, "padding": 0, "symbolSize": 225, "labelFontSize": 17, "labelOffset": 19, "rowPadding": -2,
       "encode": {"symbols": {"update": {
        "shape": {"signal": "datum.value === 'Shen+11' ? 'M-2.13,0L2.13,0' : 'M-0.87,0L0.87,0M0,-0.87L0,0.87M0.4,0A0.4,0.4,0,1,1,-0.4,0A0.4,0.4,0,1,1,0.4,0Z'"},
        "fill": {"signal": "datum.value === 'Shen+11' ? 'transparent' : '#ff7f0e'"},
        "stroke": {"signal": "datum.value === 'Shen+11' ? '#1f77b4' : '#ff7f0e'"},
        "strokeWidth": {"value": 2}, "opacity": {"value": 1}}}}}}
    }
   },
   {
    "data": {"name": "orange"},
    "mark": {"type": "rule", "color": "#ff7f0e", "strokeWidth": 1.6, "clip": true},
    "encoding": {
     "x": {"field": "x", "type": "quantitative", "scale": {"domain": [42, 45], "nice": false, "zero": false},
      "axis": {"orient": "top", "values": [42,42.1,42.2,42.3,42.4,42.5,42.6,42.7,42.8,42.9,43,43.1,43.2,43.3,43.4,43.5,43.6,43.7,43.8,43.9,44,44.1,44.2,44.3,44.4,44.5,44.6,44.7,44.8,44.9,45], "labels": false, "title": null,
       "tickSize": {"condition": {"test": "abs(datum.value*2-round(datum.value*2))<0.01", "value": -7}, "value": -3.5}}},
     "y": {"field": "lo", "type": "quantitative", "scale": {"domain": [-2, 2.044], "nice": false, "zero": false},
      "axis": {"orient": "right", "values": [-2,-1.9,-1.8,-1.7,-1.6,-1.5,-1.4,-1.3,-1.2,-1.1,-1,-0.9,-0.8,-0.7,-0.6,-0.5,-0.4,-0.3,-0.2,-0.1,0,0.1,0.2,0.3,0.4,0.5,0.6,0.7,0.8,0.9,1,1.1,1.2,1.3,1.4,1.5,1.6,1.7,1.8,1.9,2], "labels": false, "title": null,
       "tickSize": {"condition": {"test": "abs(datum.value*2-round(datum.value*2))<0.01", "value": -7}, "value": -3.5}}},
     "y2": {"field": "hi"}
    }
   },
   {
    "data": {"name": "orange"},
    "mark": {"type": "circle", "size": 48, "opacity": 1, "clip": true},
    "encoding": {
     "x": {"field": "x", "type": "quantitative", "scale": {"domain": [42, 45], "nice": false, "zero": false}, "axis": null},
     "y": {"field": "y", "type": "quantitative", "scale": {"domain": [-2, 2.044], "nice": false, "zero": false}, "axis": null},
     "color": {"datum": "This work"}
    }
   }
  ],
  "resolve": {"axis": {"x": "independent", "y": "independent"}}
 },
 {
  "width": 404, "height": 298,
  "layer": [
   {
    "data": {"name": "black"},
    "mark": {"type": "rule", "strokeWidth": 1.2, "clip": true},
    "encoding": {
     "x": {"field": "xl", "type": "quantitative", "scale": {"domain": [5.5, 10.5], "nice": false, "zero": false},
      "axis": {"orient": "bottom", "values": [5.6,5.8,6,6.2,6.4,6.6,6.8,7,7.2,7.4,7.6,7.8,8,8.2,8.4,8.6,8.8,9,9.2,9.4,9.6,9.8,10,10.2,10.4],
       "labelExpr": "abs(datum.value-round(datum.value))<0.01 ? format(datum.value,'d') : ''",
       "tickSize": {"condition": {"test": "abs(datum.value-round(datum.value))<0.01", "value": -7}, "value": -4},
       "labelPadding": 12, "labelFontSize": 18, "title": "log(MBH/M⊙)", "titleFontSize": 20, "titlePadding": 6}},
     "x2": {"field": "xh"},
     "y": {"field": "y", "type": "quantitative", "scale": {"domain": [41.25, 48.87], "nice": false, "zero": false},
      "axis": {"orient": "left", "values": [41.5,42,42.5,43,43.5,44,44.5,45,45.5,46,46.5,47,47.5,48,48.5],
       "labelExpr": "abs(datum.value/2-round(datum.value/2))<0.01 ? format(datum.value,'d') : ''",
       "tickSize": {"condition": {"test": "abs(datum.value/2-round(datum.value/2))<0.01", "value": -7}, "value": -4},
       "labelPadding": 14, "labelFontSize": 18, "title": "log Lbol = 9.26 × L₅₁₀₀ [erg/s]", "titleFontSize": 19, "titlePadding": 5}},
     "color": {"datum": "This work", "scale": {"domain": ["Tang+23", "This work"], "range": ["#b0c4de", "black"]},
      "legend": {"orient": "top-left", "title": null, "offset": 7, "padding": 0, "symbolSize": 144, "labelFontSize": 13, "labelOffset": 14, "rowPadding": -1, "symbolOffset": 12,
       "encode": {"symbols": {"update": {
        "shape": {"signal": "datum.value === 'Tang+23' ? 'M0.3,0A0.3,0.3,0,1,1,-0.3,0A0.3,0.3,0,1,1,0.3,0Z' : 'M-0.85,0L0.85,0M0,-0.85L0,0.85M0.4,0A0.4,0.4,0,1,1,-0.4,0A0.4,0.4,0,1,1,0.4,0Z'"},
        "fill": {"signal": "datum.value === 'Tang+23' ? '#b0c4de' : 'black'"},
        "stroke": {"signal": "datum.value === 'Tang+23' ? '#b0c4de' : 'black'"},
        "strokeWidth": {"value": 1.3}, "opacity": {"value": 1}}}}}}
    }
   },
   {
    "data": {"name": "blue"},
    "mark": {"type": "circle", "size": 36, "opacity": 1, "clip": true},
    "encoding": {
     "x": {"field": "x", "type": "quantitative", "scale": {"domain": [5.5, 10.5], "nice": false, "zero": false}, "axis": null},
     "y": {"field": "y", "type": "quantitative", "scale": {"domain": [41.25, 48.87], "nice": false, "zero": false}, "axis": null},
     "color": {"datum": "Tang+23"}
    }
   },
   {
    "data": {"name": "redd"},
    "mark": {"type": "line", "color": "#4d4d4d", "strokeWidth": 1.5, "strokeDash": [6, 3.5], "clip": true},
    "encoding": {
     "x": {"field": "x", "type": "quantitative", "scale": {"domain": [5.5, 10.5], "nice": false, "zero": false},
      "axis": {"orient": "top", "values": [5.6,5.8,6,6.2,6.4,6.6,6.8,7,7.2,7.4,7.6,7.8,8,8.2,8.4,8.6,8.8,9,9.2,9.4,9.6,9.8,10,10.2,10.4], "labels": false, "title": null,
       "tickSize": {"condition": {"test": "abs(datum.value-round(datum.value))<0.01", "value": -7}, "value": -4}}},
     "y": {"field": "y", "type": "quantitative", "scale": {"domain": [41.25, 48.87], "nice": false, "zero": false},
      "axis": {"orient": "right", "values": [41.5,42,42.5,43,43.5,44,44.5,45,45.5,46,46.5,47,47.5,48,48.5], "labels": false, "title": null,
       "tickSize": {"condition": {"test": "abs(datum.value/2-round(datum.value/2))<0.01", "value": -7}, "value": -4}}},
     "detail": {"field": "R", "type": "nominal"}
    }
   },
   {
    "data": {"name": "rlab"},
    "mark": {"type": "text", "angle": 334, "font": "Liberation Serif", "fontSize": 17, "color": "#333333", "align": "center", "baseline": "middle"},
    "encoding": {
     "x": {"field": "x", "type": "quantitative", "scale": {"domain": [5.5, 10.5], "nice": false, "zero": false}, "axis": null},
     "y": {"field": "y", "type": "quantitative", "scale": {"domain": [41.25, 48.87], "nice": false, "zero": false}, "axis": null},
     "text": {"field": "label"}
    }
   },
   {
    "data": {"name": "black"},
    "mark": {"type": "rule", "color": "black", "strokeWidth": 1.2, "clip": true},
    "encoding": {
     "x": {"field": "x", "type": "quantitative", "scale": {"domain": [5.5, 10.5], "nice": false, "zero": false}, "axis": null},
     "y": {"field": "yl", "type": "quantitative", "scale": {"domain": [41.25, 48.87], "nice": false, "zero": false}, "axis": null},
     "y2": {"field": "yh"}
    }
   },
   {
    "data": {"name": "black"},
    "mark": {"type": "circle", "size": 28, "opacity": 1, "clip": true},
    "encoding": {
     "x": {"field": "x", "type": "quantitative", "scale": {"domain": [5.5, 10.5], "nice": false, "zero": false}, "axis": null},
     "y": {"field": "y", "type": "quantitative", "scale": {"domain": [41.25, 48.87], "nice": false, "zero": false}, "axis": null},
     "color": {"datum": "This work"}
    }
   }
  ],
  "resolve": {"axis": {"x": "independent", "y": "independent"}}
 }
]
}
